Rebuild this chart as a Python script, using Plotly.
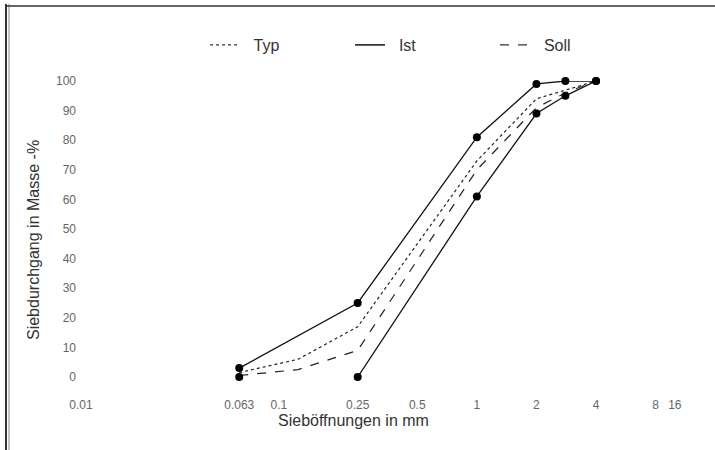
import plotly.graph_objects as go

# Sieve sizes (mm)
sizes_upper = [0.063, 0.25, 1, 2, 2.8, 4]
ist_upper = [3, 25, 81, 99, 100, 100]
sizes_lower = [0.25, 1, 2, 2.8, 4]
ist_lower = [0, 61, 89, 95, 100]
extra_x = [0.063]
extra_y = [0]

sizes_mid = [0.063, 0.125, 0.25, 1, 2, 2.8, 4]
typ = [1.5, 6, 17, 73, 94, 97, 100]
soll = [0.5, 2.5, 9, 70, 91, 96, 100]

x_tickvals = [0.01, 0.063, 0.1, 0.25, 0.5, 1, 2, 4, 8, 10]
x_ticktext = ["0.01", "0.063", "0.1", "0.25", "0.5", "1", "2", "4", "8", "16"]
y_tickvals = [0, 10, 20, 30, 40, 50, 60, 70, 80, 90, 100]

x_title = "Sieböffnungen in mm"
y_title = "Siebdurchgang in Masse -%"

FONT = "Liberation Sans, Arial, sans-serif"
W, H = 715, 450
L, R, T, B = 81, 32, 81, 73
PW, PH = W - L - R, H - T - B

def px_x(p):
    return (p - L) / PW

def px_y(p):
    return (H - B - p) / PH

fig = go.Figure()
# legend-only entries (line samples)
fig.add_trace(go.Scatter(x=[None], y=[None], mode="lines", name="  Typ",
                         line=dict(color="#333", width=1.2, dash="dot")))
fig.add_trace(go.Scatter(x=[None], y=[None], mode="lines", name="  Ist",
                         line=dict(color="#111", width=1.5)))
fig.add_trace(go.Scatter(x=[None], y=[None], mode="lines", name="  Soll",
                         line=dict(color="#333", width=1.2, dash="dash")))

fig.add_trace(go.Scatter(x=sizes_mid, y=typ, mode="lines", showlegend=False,
                         line=dict(color="#222", width=1.2, dash="dot"),
                         cliponaxis=False))
fig.add_trace(go.Scatter(x=sizes_upper, y=ist_upper, mode="lines+markers", showlegend=False,
                         line=dict(color="#111", width=1.3),
                         marker=dict(size=8, color="#000"), cliponaxis=False))
fig.add_trace(go.Scatter(x=sizes_mid, y=soll, mode="lines", showlegend=False,
                         line=dict(color="#222", width=1.2, dash="dash"),
                         cliponaxis=False))
fig.add_trace(go.Scatter(x=sizes_lower, y=ist_lower, mode="lines+markers", showlegend=False,
                         line=dict(color="#111", width=1.3),
                         marker=dict(size=8, color="#000"), cliponaxis=False))
fig.add_trace(go.Scatter(x=extra_x, y=extra_y, mode="markers", showlegend=False,
                         marker=dict(size=8, color="#000"), cliponaxis=False))

# page border lines from the scan
fig.add_shape(type="line", xref="paper", yref="paper",
              x0=px_x(6), x1=px_x(6), y0=px_y(4), y1=px_y(450),
              line=dict(color="#333", width=2))
fig.add_shape(type="line", xref="paper", yref="paper",
              x0=px_x(9), x1=px_x(9), y0=px_y(4), y1=px_y(450),
              line=dict(color="#888", width=1))
fig.add_shape(type="line", xref="paper", yref="paper",
              x0=px_x(6), x1=px_x(715), y0=px_y(6), y1=px_y(6),
              line=dict(color="#333", width=1.5))

# axis titles
fig.add_annotation(text=x_title, xref="paper", yref="paper",
                   x=px_x(353), y=px_y(420), showarrow=False,
                   xanchor="center", yanchor="middle",
                   font=dict(size=16, color="#333"))
fig.add_annotation(text=y_title, xref="paper", yref="paper",
                   x=px_x(33), y=px_y(240), showarrow=False, textangle=-90,
                   xanchor="center", yanchor="middle",
                   font=dict(size=16, color="#333"))

fig.update_layout(
    width=W, height=H,
    margin=dict(l=L, r=R, t=T, b=B),
    paper_bgcolor="white", plot_bgcolor="white",
    font=dict(family=FONT, color="#333"),
    showlegend=True,
    legend=dict(orientation="h", x=px_x(205), y=px_y(45), xanchor="left", yanchor="middle",
                entrywidth=100, entrywidthmode="pixels",
                font=dict(size=16, color="#333"), bgcolor="rgba(0,0,0,0)"),
    xaxis=dict(type="log", range=[-2, 1.0414], tickmode="array",
               tickvals=x_tickvals, ticktext=x_ticktext,
               showgrid=False, zeroline=False, showline=False, ticks="",
               ticklabelstandoff=19,
               tickfont=dict(size=12, color="#666666")),
    yaxis=dict(range=[0, 100], tickmode="array", tickvals=y_tickvals,
               showgrid=False, zeroline=False, showline=False, ticks="",
               ticklabelstandoff=4,
               tickfont=dict(size=12, color="#666666")),
)

fig.write_html("out.html", config={"displayModeBar": False},
               post_script="document.body.style.margin='0';")
